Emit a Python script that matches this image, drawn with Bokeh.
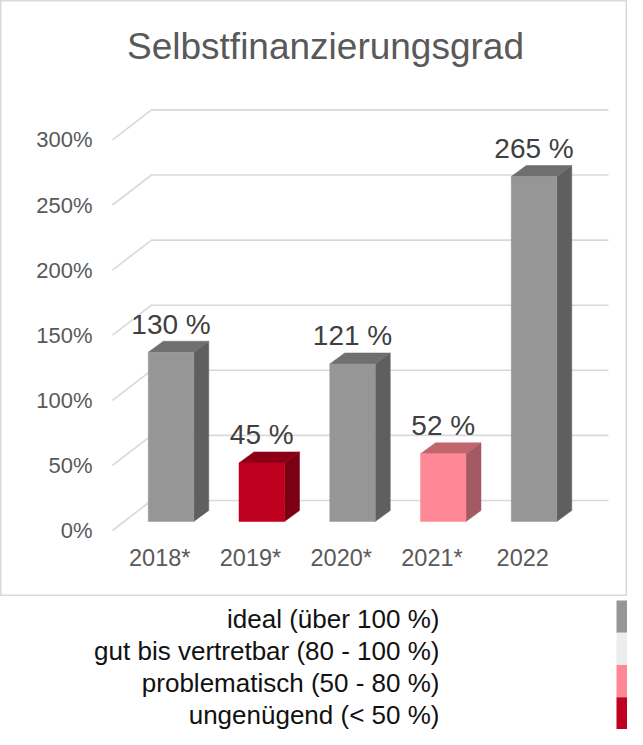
from bokeh.plotting import figure
from bokeh.models import Range1d, Label
from bokeh.layouts import column
from bokeh.core.properties import value
from bokeh.embed import file_html
from bokeh.resources import INLINE

# ---------------- data ----------------
years = ["2018*", "2019*", "2020*", "2021*", "2022"]
ratios = [130, 45, 121, 52, 265]
y_ticks = [0, 50, 100, 150, 200, 250, 300]
y_tick_labels = ["0%", "50%", "100%", "150%", "200%", "250%", "300%"]
title_text = "Selbstfinanzierungsgrad"
legend_labels = ["ideal (über 100 %)", "gut bis vertretbar (80 - 100 %)",
                 "problematisch (50 - 80 %)", "ungenügend (< 50 %)"]
legend_colors = ["#969696", "#ededed", "#ff8896", "#c0001f"]

# face colours (front, top, side) per rating class
FACE = {
    "ideal": ("#969696", "#6f6f6f", "#5f5f5f"),
    "gut": ("#ededed", "#bdbdbd", "#a8a8a8"),
    "problem": ("#ff8896", "#c0646e", "#a35a62"),
    "bad": ("#c0001f", "#8b0015", "#7a0012"),
}

def rating(v):
    if v > 100:
        return "ideal"
    if v >= 80:
        return "gut"
    if v >= 50:
        return "problem"
    return "bad"

# ---------------- layout constants ----------------
FONT = "Liberation Sans"
W = 627
CH_H = 596
SY = 1.302          # px per percent
SX = 90.75          # px per category step
X0_PX = 170.5       # px of first category centre
ZERO_PX_Y = 530     # px (from top) of 0% on front plane

def px2x(px):
    return (px - X0_PX) / SX

def py2y(py):
    return (ZERO_PX_Y - py) / SY

ZERO_FROM_BOTTOM = CH_H - ZERO_PX_Y

p = figure(width=W, height=CH_H, output_backend="svg", toolbar_location=None,
           x_axis_location=None, y_axis_location=None,
           x_range=Range1d(-X0_PX / SX, (W - X0_PX) / SX),
           y_range=Range1d(-ZERO_FROM_BOTTOM / SY, (CH_H - ZERO_FROM_BOTTOM) / SY),
           min_border=0, background_fill_color="white", border_fill_color="white")
p.outline_line_color = "#d9d9d9"
p.outline_line_width = 2
p.grid.grid_line_color = None

# perspective offsets
BACK_DX = 39 / SX
BACK_DY = 30 / SY
LIFT = 9 / SY          # bar plane above front plane
LIFT_DX = 11.3 / SX    # bar plane shift to the right
DEPTH_DX = 15 / SX
DEPTH_DY = 11 / SY
HALF_W = 22.75 / SX

# gridlines (front diagonal + back horizontal)
x_front = px2x(112)
x_back = x_front + BACK_DX
x_end = px2x(608)
gx = [[x_front, x_back, x_end] for _ in y_ticks]
gy = [[t, t + BACK_DY, t + BACK_DY] for t in y_ticks]
p.multi_line(xs=gx, ys=gy, line_color="#d9d9d9", line_width=1.6)

# y tick labels on front plane
p.text(x=[px2x(92)] * len(y_ticks), y=y_ticks, text=y_tick_labels,
       text_font=value(FONT), text_font_size=value("22px"), text_color="#595959",
       text_align="right", text_baseline="middle")

# bars
idx = list(range(len(years)))
front_c, top_c, side_c = [], [], []
top_xs, top_ys, side_xs, side_ys = [], [], [], []
lefts, rights, bottoms, tops = [], [], [], []
for i, v in zip(idx, ratios):
    f, t, s = FACE[rating(v)]
    front_c.append(f); top_c.append(t); side_c.append(s)
    xl, xr = i - HALF_W, i + HALF_W
    b, tp = LIFT, v + LIFT
    lefts.append(xl); rights.append(xr); bottoms.append(b); tops.append(tp)
    top_xs.append([xl, xl + DEPTH_DX, xr + DEPTH_DX, xr])
    top_ys.append([tp, tp + DEPTH_DY, tp + DEPTH_DY, tp])
    side_xs.append([xr, xr, xr + DEPTH_DX, xr + DEPTH_DX])
    side_ys.append([b, tp, tp + DEPTH_DY, b + DEPTH_DY])

p.patches(xs=side_xs, ys=side_ys, fill_color=side_c, line_color=side_c, line_width=0.5)
p.patches(xs=top_xs, ys=top_ys, fill_color=top_c, line_color=top_c, line_width=0.5)
p.quad(left=lefts, right=rights, bottom=bottoms, top=tops,
       fill_color=front_c, line_color=front_c, line_width=0.5)

# data labels
p.text(x=idx, y=[v + LIFT + DEPTH_DY + 17 / SY for v in ratios],
       text=[f"{v} %" for v in ratios],
       text_font=value(FONT), text_font_size=value("28px"), text_color="#404040",
       text_align="center", text_baseline="middle")

# category labels on front plane
p.text(x=[i - LIFT_DX for i in idx], y=[py2y(557)] * len(idx), text=years,
       text_font=value(FONT), text_font_size=value("23.5px"), text_color="#595959",
       text_align="center", text_baseline="middle")

# title
p.add_layout(Label(x=px2x(325), y=py2y(46), text=title_text, text_font=FONT,
                   text_font_size="37px", text_color="#595959",
                   text_align="center", text_baseline="middle"))

# ---------------- legend figure ----------------
LG_H = 729 - CH_H
TOP_GAP = 4
ROW_PX = (LG_H - TOP_GAP) / 4
ROW0_PX = TOP_GAP + ROW_PX / 2
lg = figure(width=W, height=LG_H, output_backend="svg", toolbar_location=None,
            x_axis_location=None, y_axis_location=None,
            x_range=Range1d(0, W),
            y_range=Range1d((LG_H - ROW0_PX) / ROW_PX, -ROW0_PX / ROW_PX),
            min_border=0, background_fill_color="white", border_fill_color="white")
lg.outline_line_color = None
lg.grid.grid_line_color = None
rows = list(range(len(legend_labels)))
lg.quad(left=616, right=643, top=[r - 0.5 for r in rows], bottom=[r + 0.5 for r in rows],
        fill_color=legend_colors, line_color=None)
lg.text(x=[439] * len(rows), y=[r + 2 / ROW_PX for r in rows], text=legend_labels,
        text_font=value(FONT), text_font_size=value("26px"), text_color="#111111",
        text_align="right", text_baseline="middle")

layout = column(p, lg, spacing=0)
open("out.html", "w").write(file_html(layout, INLINE))
